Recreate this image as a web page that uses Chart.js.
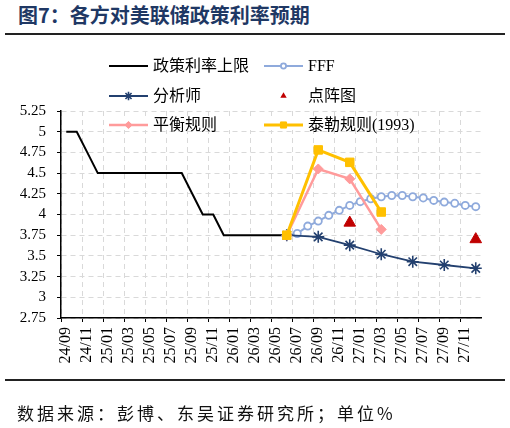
<!DOCTYPE html>
<html>
<head>
<meta charset="utf-8">
<script src="https://cdn.jsdelivr.net/npm/chart.js@4.4.1/dist/chart.umd.min.js"></script>
<style>
body { margin: 0; background: #fff; }
#wrap { position: relative; width: 510px; height: 428px; overflow: hidden; }
#title { position: absolute; left: 18px; top: 5px; font: bold 20px/20px "Noto Sans CJK SC"; color: #1f3864; white-space: nowrap; }
.rule { position: absolute; left: 5px; width: 500px; height: 2px; background: #222; }
#src { position: absolute; left: 17px; top: 404px; font: 17px/17px "Noto Sans CJK SC"; letter-spacing: 3px; color: #111; white-space: nowrap; }
canvas { position: absolute; left: 0; top: 0; }
</style>
</head>
<body>
<div id="wrap">
  <div id="title">图7：各方对美联储政策利率预期</div>
  <div class="rule" style="top:33px"></div>
  <canvas id="rateChart" width="510" height="428"></canvas>
  <div class="rule" style="top:379px"></div>
  <div id="src">数据来源：彭博、东吴证券研究所；单位%</div>
</div>
<script>
// monthly categories, 24/09 - 27/12
const months = [
  "24/09","24/10","24/11","24/12",
  "25/01","25/02","25/03","25/04","25/05","25/06","25/07","25/08","25/09","25/10","25/11","25/12",
  "26/01","26/02","26/03","26/04","26/05","26/06","26/07","26/08","26/09","26/10","26/11","26/12",
  "27/01","27/02","27/03","27/04","27/05","27/06","27/07","27/08","27/09","27/10","27/11","27/12"
];

// 24/09 - 26/06
const policyRate = [5, 5, 4.75, 4.5, 4.5, 4.5, 4.5, 4.5, 4.5, 4.5, 4.5, 4.5, 4.25, 4, 4, 3.75, 3.75, 3.75, 3.75, 3.75, 3.75, 3.75];

// 26/06 - 27/12, monthly
const fff = [3.75, 3.77, 3.86, 3.92, 3.99, 4.05, 4.11, 4.155, 4.19, 4.215, 4.23, 4.23, 4.215, 4.2, 4.17, 4.15, 4.135, 4.11, 4.095];

// quarterly
const analystMonths = ["26/06", "26/09", "26/12", "27/03", "27/06", "27/09", "27/12"];
const analyst = [3.75, 3.73, 3.63, 3.52, 3.43, 3.39, 3.35];

const ruleMonths = ["26/06", "26/09", "26/12", "27/03"];
const balancedRule = [3.75, 4.55, 4.43, 3.82];
const taylor1993 = [3.75, 4.78, 4.63, 4.03];

const dotMonths = ["26/12", "27/12"];
const dotPlot = [3.9, 3.7];

const yMin = 2.75, yMax = 5.25, yStep = 0.25;

// helpers to spread the small arrays over the month axis
function fromMonth(start, values) {
    const s = months.indexOf(start);
    return months.map((m, i) => (i >= s && i - s < values.length) ? values[i - s] : null);
}
function atMonths(labels, values) {
    return months.map(m => {
        const k = labels.indexOf(m);
        return k < 0 ? null : values[k];
    });
}

const NAVY = "#23406f";
const LBLUE = "#8faadc";
const PINK = "#ff9b9b";
const GOLD = "#ffc000";
const RED = "#c00000";
const GRID = "#d9d9d9";

const datasets = [
    {
        label: "政策利率上限",
        data: fromMonth("24/09", policyRate),
        borderColor: "#000", borderWidth: 2,
        pointRadius: 0, pointHoverRadius: 0,
        order: 5
    },
    {
        label: "FFF",
        data: fromMonth("26/06", fff),
        borderColor: LBLUE, borderWidth: 2,
        pointStyle: "circle", pointRadius: 3.6,
        pointBackgroundColor: "#fff", pointBorderColor: LBLUE, pointBorderWidth: 1.8,
        order: 4
    },
    {
        label: "分析师",
        data: atMonths(analystMonths, analyst),
        spanGaps: true,
        borderColor: NAVY, borderWidth: 1.8,
        pointStyle: "star", pointRadius: 6,
        pointBackgroundColor: NAVY, pointBorderColor: NAVY, pointBorderWidth: 1.6,
        order: 3
    },
    {
        label: "点阵图",
        data: atMonths(dotMonths, dotPlot),
        showLine: false,
        borderColor: RED,
        pointStyle: "triangle", pointRadius: 6.7,
        pointBackgroundColor: RED, pointBorderColor: RED, pointBorderWidth: 1,
        order: 2
    },
    {
        label: "平衡规则",
        data: atMonths(ruleMonths, balancedRule),
        spanGaps: true,
        borderColor: PINK, borderWidth: 2.5,
        pointStyle: "rectRot", pointRadius: 5,
        pointBackgroundColor: PINK, pointBorderColor: PINK, pointBorderWidth: 1,
        order: 1
    },
    {
        label: "泰勒规则(1993)",
        data: atMonths(ruleMonths, taylor1993),
        spanGaps: true,
        borderColor: GOLD, borderWidth: 3,
        pointStyle: "rect", pointRadius: 6,
        pointBackgroundColor: GOLD, pointBorderColor: GOLD, pointBorderWidth: 1,
        order: 0
    }
];

// legend entries: dataset index and placement
const legendItems = [
    { ds: 0, x: 109, y: 66 }, { ds: 1, x: 264, y: 66 },
    { ds: 2, x: 109, y: 96 }, { ds: 3, x: 264, y: 96 },
    { ds: 4, x: 109, y: 125 }, { ds: 5, x: 264, y: 125 }
];

function drawMarker(ctx, ds, x, y, r) {
    const st = ds.pointStyle;
    ctx.save();
    ctx.fillStyle = ds.pointBackgroundColor;
    ctx.strokeStyle = ds.pointBorderColor;
    ctx.lineWidth = ds.pointBorderWidth;
    ctx.beginPath();
    if (st === "circle") {
        ctx.arc(x, y, r, 0, Math.PI * 2);
        ctx.fill(); ctx.stroke();
    } else if (st === "rect") {
        const s = r * Math.SQRT1_2;
        ctx.rect(x - s, y - s, 2 * s, 2 * s);
        ctx.fill(); ctx.stroke();
    } else if (st === "rectRot") {
        ctx.moveTo(x, y - r); ctx.lineTo(x + r, y); ctx.lineTo(x, y + r); ctx.lineTo(x - r, y);
        ctx.closePath(); ctx.fill(); ctx.stroke();
    } else if (st === "triangle") {
        ctx.moveTo(x, y - r);
        ctx.lineTo(x + r * 0.866, y + r / 2);
        ctx.lineTo(x - r * 0.866, y + r / 2);
        ctx.closePath(); ctx.fill();
    } else if (st === "star") {
        const d = r * 0.707;
        ctx.moveTo(x - r, y); ctx.lineTo(x + r, y);
        ctx.moveTo(x, y - r); ctx.lineTo(x, y + r);
        ctx.moveTo(x - d, y - d); ctx.lineTo(x + d, y + d);
        ctx.moveTo(x - d, y + d); ctx.lineTo(x + d, y - d);
        ctx.stroke();
    }
    ctx.restore();
}

const legendPlugin = {
    id: "boxLegend",
    afterDraw(chart) {
        const ctx = chart.ctx;
        ctx.save();
        // legend box sits over the top of the plot
        ctx.fillStyle = "#fff";
        ctx.fillRect(104, 117, 316, 13);
        legendItems.forEach(it => {
            const ds = chart.data.datasets[it.ds];
            if (ds.showLine !== false) {
                ctx.strokeStyle = ds.borderColor;
                ctx.lineWidth = ds.borderWidth;
                ctx.beginPath();
                ctx.moveTo(it.x, it.y);
                ctx.lineTo(it.x + 39, it.y);
                ctx.stroke();
            }
            if (ds.pointRadius > 0) {
                const k = ds.pointStyle === "triangle" ? 0.55 : 0.72;
                drawMarker(ctx, ds, it.x + 19.5, it.y, ds.pointRadius * k);
            }
            ctx.fillStyle = "#000";
            ctx.font = '16px "Liberation Serif", "Noto Sans CJK SC"';
            ctx.textBaseline = "middle";
            ctx.textAlign = "left";
            ctx.fillText(ds.label, it.x + 44, it.y + 1);
        });
        ctx.restore();
    }
};

new Chart(document.getElementById("rateChart"), {
    type: "line",
    data: { labels: months, datasets: datasets },
    options: {
        responsive: false,
        devicePixelRatio: 1,
        animation: false,
        layout: { padding: { left: 0, right: 29, top: 111, bottom: 58 } },
        plugins: {
            legend: { display: false },
            tooltip: { enabled: false }
        },
        elements: { line: { tension: 0 } },
        scales: {
            x: {
                offset: true,
                afterFit: s => { s.height = 52; },
                grid: {
                    offset: true,
                    color: c => (c.index % 2 === 0 ? GRID : "rgba(0,0,0,0)"),
                    tickColor: c => (c.index % 2 === 0 ? "#000" : "rgba(0,0,0,0)"),
                    tickLength: 4,
                    lineWidth: 1
                },
                border: { color: "#000", width: 1.5, dash: [5, 4] },
                ticks: {
                    autoSkip: false,
                    maxRotation: 90,
                    minRotation: 90,
                    padding: 5,
                    color: "#000",
                    font: { family: "Liberation Serif", size: 16 },
                    callback: (v, i) => (i % 2 === 0 ? months[i] : "")
                }
            },
            y: {
                min: yMin,
                max: yMax,
                afterFit: s => { s.width = 61; },
                grid: {
                    color: GRID,
                    tickColor: "#000",
                    tickLength: 4,
                    lineWidth: 1
                },
                border: { color: "#000", width: 1.5, dash: [5, 4] },
                ticks: {
                    stepSize: yStep,
                    autoSkip: false,
                    padding: 11,
                    color: "#000",
                    font: { family: "Liberation Serif", size: 15 },
                    callback: v => String(+v.toFixed(2))
                }
            }
        }
    },
    plugins: [legendPlugin]
});
</script>
</body>
</html>
